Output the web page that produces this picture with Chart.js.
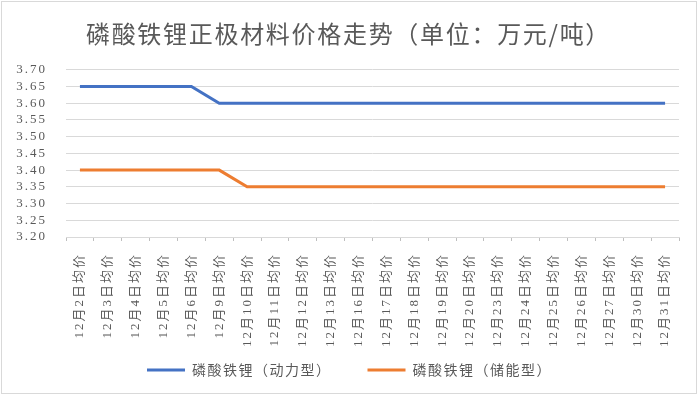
<!DOCTYPE html>
<html>
<head>
<meta charset="utf-8">
<script src="https://cdn.jsdelivr.net/npm/chart.js@4"></script>
<style>
html,body{margin:0;padding:0;background:#fff;}
canvas{display:block;}
</style>
</head>
<body>
<canvas id="c" width="700" height="396"></canvas>
<script>
const categories = ['12月2日均价','12月3日均价','12月4日均价','12月5日均价','12月6日均价','12月9日均价','12月10日均价','12月11日均价','12月12日均价','12月13日均价','12月16日均价','12月17日均价','12月18日均价','12月19日均价','12月20日均价','12月23日均价','12月24日均价','12月25日均价','12月26日均价','12月27日均价','12月30日均价','12月31日均价'];
const powerType = [3.65,3.65,3.65,3.65,3.65,3.60,3.60,3.60,3.60,3.60,3.60,3.60,3.60,3.60,3.60,3.60,3.60,3.60,3.60,3.60,3.60,3.60];
const storageType = [3.40,3.40,3.40,3.40,3.40,3.40,3.35,3.35,3.35,3.35,3.35,3.35,3.35,3.35,3.35,3.35,3.35,3.35,3.35,3.35,3.35,3.35];
const seriesNames = ['磷酸铁锂（动力型）','磷酸铁锂（储能型）'];
const titleText = '磷酸铁锂正极材料价格走势（单位：万元/吨）';
const yMin = 3.20, yMax = 3.70, yStep = 0.05;

const TEXT = '#595959';
const SERIF = "'Liberation Serif','Noto Sans CJK SC'";
const SANS = "'Noto Sans CJK SC'";
const BASE_SPACING = '2px';
const LEGEND_PAD = 36;
const LEGEND_FONT = 14;
const LEGEND_Y = 370;

function wrapSpacing(obj, methods, sp){
  if (!obj || obj.__spWrapped) return;
  obj.__spWrapped = true;
  methods.forEach(m => {
    const orig = obj[m];
    obj[m] = function(...a){
      const ctx = this.ctx;
      const prev = ctx.letterSpacing;
      ctx.letterSpacing = sp;
      try { return orig.apply(this, a); } finally { ctx.letterSpacing = prev; }
    };
  });
}

const spacingPlugin = {
  id: 'spacing',
  beforeUpdate(chart){
    chart.ctx.letterSpacing = BASE_SPACING;
    wrapSpacing(chart.legend, ['fit','draw'], '1.5px');
    wrapSpacing(chart.titleBlock, ['fit','draw'], '1.7px');
  },
  beforeLayout(chart){ chart.ctx.letterSpacing = BASE_SPACING; },
  afterLayout(chart){
    const lg = chart.legend;
    if (lg) {
      lg.left += 10; lg.right += 10;
      lg.top = LEGEND_Y - LEGEND_FONT / 2 - LEGEND_PAD;
      lg.bottom = chart.height;
      lg.height = lg.bottom - lg.top;
    }
    const tb = chart.titleBlock;
    if (tb) { tb.left += 9; tb.right += 9; }
  },
  beforeDraw(chart){ chart.ctx.letterSpacing = BASE_SPACING; }
};
const borderPlugin = {
  id: 'frame',
  afterDraw(chart){
    const ctx = chart.ctx;
    ctx.save();
    ctx.strokeStyle = '#D9D9D9';
    ctx.lineWidth = 1;
    ctx.strokeRect(1.5, 1.5, 695, 392);
    ctx.restore();
  }
};

new Chart(document.getElementById('c'), {
  type: 'line',
  data: {
    labels: categories,
    datasets: [
      {label: seriesNames[0], data: powerType, borderColor: '#4472C4', backgroundColor: '#4472C4', borderWidth: 3, pointRadius: 0, tension: 0, fill: false},
      {label: seriesNames[1], data: storageType, borderColor: '#ED7D31', backgroundColor: '#ED7D31', borderWidth: 3, pointRadius: 0, tension: 0, fill: false}
    ]
  },
  options: {
    responsive: false,
    animation: false,
    layout: {padding: {left: 0, right: 21, top: 0, bottom: 5}},
    plugins: {
      title: {
        display: true,
        text: titleText,
        color: TEXT,
        font: {family: SANS, size: 24, weight: 'normal'},
        padding: {top: 19, bottom: 22}
      },
      legend: {
        position: 'bottom',
        maxHeight: 40,
        labels: {
          color: TEXT,
          font: {family: SANS, size: LEGEND_FONT},
          usePointStyle: true,
          pointStyle: 'line',
          pointStyleWidth: 38,
          boxHeight: LEGEND_FONT,
          padding: LEGEND_PAD
        }
      },
      tooltip: {enabled: false}
    },
    scales: {
      x: {
        offset: true,
        grid: {display: true, drawOnChartArea: false, drawTicks: true, tickLength: 4, offset: true, color: '#BFBFBF'},
        border: {display: true, color: '#D9D9D9'},
        ticks: {color: TEXT, font: {family: SERIF, size: 13}, maxRotation: 90, minRotation: 90, autoSkip: false, padding: 12},
        afterFit(scale){ scale.height = 114; }
      },
      y: {
        min: yMin, max: yMax,
        grid: {color: '#D9D9D9', drawTicks: false},
        border: {display: false},
        ticks: {stepSize: yStep, autoSkip: false, color: TEXT, font: {family: SERIF, size: 13}, padding: 19, callback: v => Number(v).toFixed(2)},
        afterFit(scale){ scale.width = 66; }
      }
    }
  },
  plugins: [spacingPlugin, borderPlugin]
});
</script>
</body>
</html>
